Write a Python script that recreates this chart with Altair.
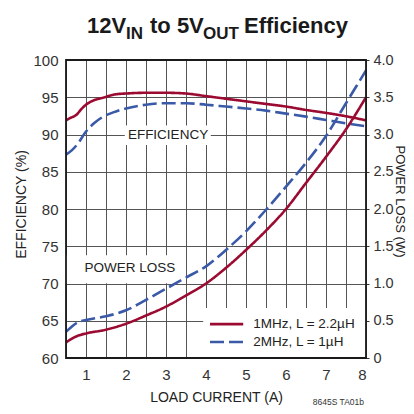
import altair as alt
import pandas as pd

FONT = "Liberation Sans, Arial, Helvetica, sans-serif"
RED = "#9b0a30"
BLUE = "#3a5aa8"

S1 = "1MHz, L = 2.2µH"
S2 = "2MHz, L = 1µH"

# ---- data ----
load_eff_1 = [0.5, 0.6, 0.75, 0.9, 1.0, 1.2, 1.4, 1.75, 2.0, 2.5, 3.0, 3.5, 4.0, 4.5, 5.0, 5.5, 6.0, 6.5, 7.0, 7.5, 8.0]
eff_1 = [91.9, 92.2, 92.6, 93.5, 94.0, 94.6, 94.9, 95.4, 95.5, 95.6, 95.6, 95.5, 95.15, 94.8, 94.45, 94.1, 93.75, 93.3, 92.9, 92.45, 91.9]
load_eff_2 = [0.5, 0.65, 0.8, 1.0, 1.2, 1.4, 1.7, 2.0, 2.5, 3.0, 3.5, 4.0, 4.5, 5.0, 5.5, 6.0, 6.5, 7.0, 7.5, 8.0]
eff_2 = [87.3, 87.9, 88.8, 90.4, 91.5, 92.3, 93.0, 93.5, 94.0, 94.2, 94.2, 94.0, 93.75, 93.5, 93.2, 92.8, 92.4, 91.95, 91.5, 91.1]
load_loss = [0.5, 0.8, 1.0, 1.5, 2.0, 2.5, 3.0, 3.5, 4.0, 4.5, 5.0, 5.5, 6.0, 6.5, 7.0, 7.5, 8.0]
loss_1 = [0.21, 0.30, 0.33, 0.38, 0.46, 0.57, 0.69, 0.84, 1.00, 1.21, 1.45, 1.71, 2.00, 2.35, 2.70, 3.07, 3.50]
loss_2 = [0.35, 0.48, 0.51, 0.56, 0.64, 0.78, 0.93, 1.08, 1.23, 1.45, 1.70, 1.99, 2.30, 2.62, 2.98, 3.42, 3.86]

x_ticks = [0.5 * i for i in range(1, 17)]
eff_ticks = [60, 65, 70, 75, 80, 85, 90, 95, 100]
loss_ticks = [0.5 * i for i in range(0, 9)]

# annotation boxes (data units)
eff_label = {"text": "EFFICIENCY", "x": 3.05, "y": 89.95, "x0": 1.97, "x1": 4.12, "y0": 88.6, "y1": 91.2}
loss_label = {"text": "POWER LOSS", "x": 2.1, "y": 1.21, "x0": 0.5, "x1": 3.47, "y0": 1.005, "y1": 1.38}
legend_box = {"x0": 3.93, "x1": 8.0, "y0": 0.0, "y1": 0.67}
legend_rows = pd.DataFrame({
    "series": [S1, S2],
    "load": [4.1, 4.1],
    "load_end": [4.93, 4.93],
    "loss": [0.455, 0.215],
    "text_x": [5.18, 5.18],
})

W, H = 300, 298

eff_df = pd.concat([
    pd.DataFrame({"load": load_eff_1, "eff": eff_1, "series": S1}),
    pd.DataFrame({"load": load_eff_2, "eff": eff_2, "series": S2}),
])
loss_df = pd.concat([
    pd.DataFrame({"load": load_loss, "loss": loss_1, "series": S1}),
    pd.DataFrame({"load": load_loss, "loss": loss_2, "series": S2}),
])

xscale = alt.Scale(domain=[0.5, 8], nice=False, zero=False)
xaxis = alt.Axis(
    values=x_ticks,
    labelExpr="datum.value % 1 == 0 ? format(datum.value, 'd') : ''",
    grid=True, ticks=False, domain=False,
    labelFontSize=15, labelPadding=9, labelColor="#333",
    title="LOAD CURRENT (A)", titleFontSize=14, titleFontWeight="normal",
    titleColor="#222", titlePadding=8,
)
effscale = alt.Scale(domain=[60, 100], nice=False, zero=False)
effaxis = alt.Axis(
    values=eff_ticks, orient="left", grid=True, ticks=False, domain=False,
    labelFontSize=15, labelPadding=8, labelColor="#333",
    title="EFFICIENCY (%)", titleFontSize=14, titleFontWeight="normal",
    titleColor="#222", titleX=-45, titleY=H / 2 - 5, titleBaseline="middle",
)
lossscale = alt.Scale(domain=[0, 4], nice=False, zero=False)
lossaxis = alt.Axis(
    values=loss_ticks, orient="right", grid=False, ticks=True, tickSize=3,
    tickColor="#333", domain=False,
    labelExpr="datum.value == 0 ? '0' : format(datum.value, '.1f')",
    labelFontSize=14.5, labelPadding=4, labelColor="#333",
    title="POWER LOSS (W)", titleFontSize=13, titleFontWeight="normal",
    titleColor="#222", titleX=33, titleY=H / 2 - 8, titleBaseline="middle",
)

color = alt.Color("series:N", scale=alt.Scale(domain=[S1, S2], range=[RED, BLUE]), legend=None)
dash = alt.StrokeDash("series:N", scale=alt.Scale(domain=[S1, S2], range=[[1, 0], [14, 5]]), legend=None)

def X(field):
    return alt.X(field, type="quantitative", scale=xscale, axis=xaxis)

# ---------- efficiency group ----------
eff_box = alt.Chart(pd.DataFrame([eff_label])).mark_rect(fill="white").encode(
    x=X("x0"), x2="x1",
    y=alt.Y("y0:Q", scale=effscale, axis=effaxis), y2="y1",
)
eff_text = alt.Chart(pd.DataFrame([eff_label])).mark_text(
    font=FONT, fontSize=13.5, color="#222", baseline="middle", align="center"
).encode(x=X("x"), y=alt.Y("y:Q", scale=effscale, axis=effaxis), text="text:N")
eff_lines = alt.Chart(eff_df).mark_line(interpolate="monotone", strokeWidth=2.6).encode(
    x=X("load"), y=alt.Y("eff:Q", scale=effscale, axis=effaxis), color=color, strokeDash=dash,
)
eff_group = alt.layer(eff_box, eff_text, eff_lines)

# ---------- power loss group ----------
loss_box = alt.Chart(pd.DataFrame([loss_label, {**legend_box, "text": "", "x": 0, "y": 0}])).mark_rect(
    fill="white"
).encode(x=X("x0"), x2="x1", y=alt.Y("y0:Q", scale=lossscale, axis=lossaxis), y2="y1")
loss_text = alt.Chart(pd.DataFrame([loss_label])).mark_text(
    font=FONT, fontSize=13.5, color="#222", baseline="middle", align="center"
).encode(x=X("x"), y=alt.Y("y:Q", scale=lossscale, axis=lossaxis), text="text:N")
loss_lines = alt.Chart(loss_df).mark_line(interpolate="monotone", strokeWidth=2.6).encode(
    x=X("load"), y=alt.Y("loss:Q", scale=lossscale, axis=lossaxis), color=color, strokeDash=dash,
)
leg_lines = alt.Chart(legend_rows).mark_rule(strokeWidth=2.6).encode(
    x=X("load"), x2="load_end", y=alt.Y("loss:Q", scale=lossscale, axis=lossaxis),
    color=color, strokeDash=dash,
)
leg_text = alt.Chart(legend_rows).mark_text(
    font=FONT, fontSize=13.5, color="#222", baseline="middle", align="left"
).encode(x=X("text_x"), y=alt.Y("loss:Q", scale=lossscale, axis=lossaxis), text="series:N")
loss_group = alt.layer(loss_box, loss_text, loss_lines, leg_lines, leg_text)

# ---------- frame + title ----------
one = pd.DataFrame({"a": [0]})
frame = alt.Chart(one).mark_rect(fill=None, stroke="#1a1a1a", strokeWidth=1.8).encode(
    x=alt.value(0), x2=alt.value(W), y=alt.value(0), y2=alt.value(H)
)
title_parts = [
    ("12V", 21, -27, 22), ("IN", 60, -21, 17), ("to 5V", 84, -27, 22),
    ("OUT", 137, -21, 17), ("Efficiency", 178, -27, 22),
]
title_layers = [
    alt.Chart(one).mark_text(
        text=t, font=FONT, fontSize=s, fontWeight="bold", color="#1a1a1a",
        align="left", baseline="alphabetic",
    ).encode(x=alt.value(x), y=alt.value(y))
    for t, x, y, s in title_parts
]
footer = alt.Chart(one).mark_text(
    text="8645S TA01b", font=FONT, fontSize=8.5, color="#333", align="right", baseline="alphabetic"
).encode(x=alt.value(298), y=alt.value(345))

chart = alt.layer(eff_group, loss_group, frame, *title_layers, footer).resolve_scale(
    y="independent"
).properties(
    width=W, height=H,
    autosize=alt.AutoSizeParams(type="none"),
    padding={"left": 58, "top": 52, "right": 40, "bottom": 48},
).configure_view(stroke=None).configure_axis(
    labelFont=FONT, titleFont=FONT, gridColor="#555555", gridOpacity=1, gridWidth=1,
)

chart.save("out.html", embed_options={"renderer": "svg", "actions": False})
